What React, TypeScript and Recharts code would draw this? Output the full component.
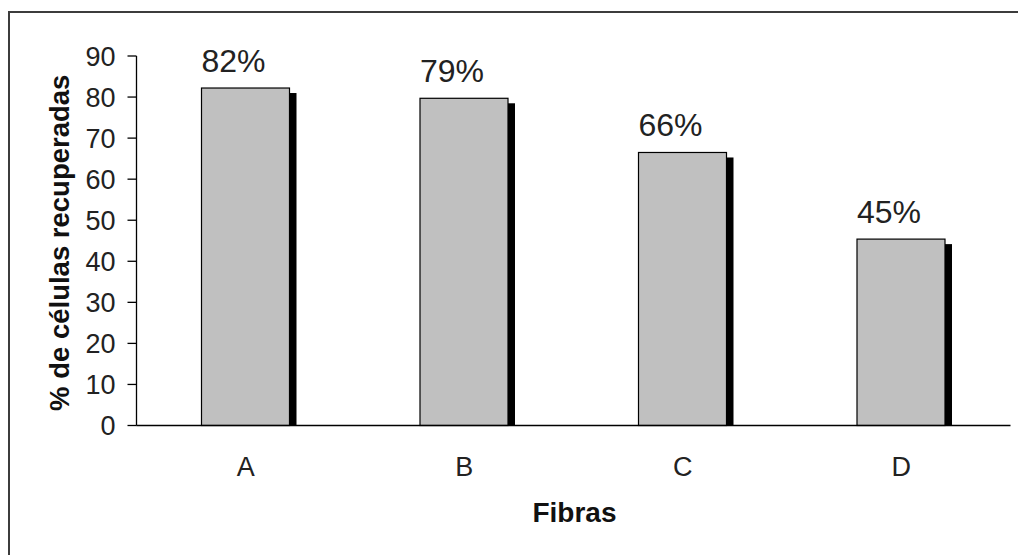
import React from "react";
import { BarChart, Bar, XAxis, YAxis, LabelList } from "recharts";

const fibras = ["A", "B", "C", "D"];
const recuperadas = [82.2, 79.7, 66.5, 45.4];
const rotulos = ["82%", "79%", "66%", "45%"];
const yTicks = [0, 10, 20, 30, 40, 50, 60, 70, 80, 90];
const limites = [0, 1, 2, 3, 4];

const dados = fibras.map((f, i) => ({ fibra: f, valor: recuperadas[i], rotulo: rotulos[i] }));

const FONTE = '"Liberation Sans", Arial, sans-serif';

// barra cinza com sombra preta deslocada para a direita
function BarraComSombra(props: any) {
  const { x, y, width, height } = props;
  return (
    <g>
      <rect x={x + 7} y={y + 5} width={width} height={Math.max(height - 5, 0)} fill="#000" />
      <rect x={x} y={y} width={width} height={height} fill="#c0c0c0" stroke="#000" strokeWidth={1.2} />
    </g>
  );
}

function Rotulo(props: any) {
  const { x, y, value } = props;
  return (
    <text x={x} y={y - 16} textAnchor="start" fontSize={32} fill="#222" fontFamily={FONTE}>
      {value}
    </text>
  );
}

function TituloY(props: any) {
  const { viewBox } = props;
  const cy = viewBox.y + viewBox.height / 2 + 2;
  return (
    <text
      x={69}
      y={cy}
      transform={`rotate(-90, 69, ${cy})`}
      textAnchor="middle"
      fontSize={27.5}
      fontWeight="bold"
      fill="#111"
      fontFamily={FONTE}
    >
      % de células recuperadas
    </text>
  );
}

function TituloX(props: any) {
  const { viewBox } = props;
  return (
    <text
      x={viewBox.x + viewBox.width / 2 + 1}
      y={viewBox.y + 96.5}
      textAnchor="middle"
      fontSize={28}
      fontWeight="bold"
      fill="#111"
      fontFamily={FONTE}
    >
      Fibras
    </text>
  );
}

export default function App() {
  return (
    <div
      style={{
        position: "fixed",
        left: 0,
        top: 0,
        width: 1018,
        height: 555,
        overflow: "hidden",
        background: "#fff",
      }}
    >
      <svg width={1018} height={555} style={{ position: "absolute", left: 0, top: 0 }}>
        <path d="M9 555 V12 H1018" fill="none" stroke="#3c3c3c" strokeWidth={2} />
      </svg>
      <div style={{ position: "absolute", left: 0, top: 0 }}>
        <BarChart width={1018} height={555} data={dados} margin={{ top: 56, right: 7.5, bottom: 0, left: 0 }}>
          <XAxis
            xAxisId="limites"
            type="number"
            domain={[0, 4]}
            ticks={limites}
            tick={false}
            height={0}
            axisLine={false}
            tickSize={8}
            tickLine={{ stroke: "#000", strokeWidth: 1.3 }}
          />
          <XAxis
            dataKey="fibra"
            height={129.5}
            tickLine={false}
            tickSize={0}
            tickMargin={31}
            axisLine={{ stroke: "#000", strokeWidth: 1.3 }}
            tick={{ fontSize: 27, fill: "#222", fontFamily: FONTE }}
            label={<TituloX />}
          />
          <YAxis
            width={136.5}
            domain={[0, 90]}
            ticks={yTicks}
            interval={0}
            tickSize={9}
            tickMargin={12}
            axisLine={{ stroke: "#000", strokeWidth: 1.3 }}
            tickLine={{ stroke: "#000", strokeWidth: 1.3 }}
            tick={{ fontSize: 27, fill: "#222", fontFamily: FONTE }}
            label={<TituloY />}
          />
          <Bar dataKey="valor" barSize={88} shape={<BarraComSombra />} isAnimationActive={false}>
            <LabelList dataKey="rotulo" content={<Rotulo />} />
          </Bar>
        </BarChart>
      </div>
    </div>
  );
}
